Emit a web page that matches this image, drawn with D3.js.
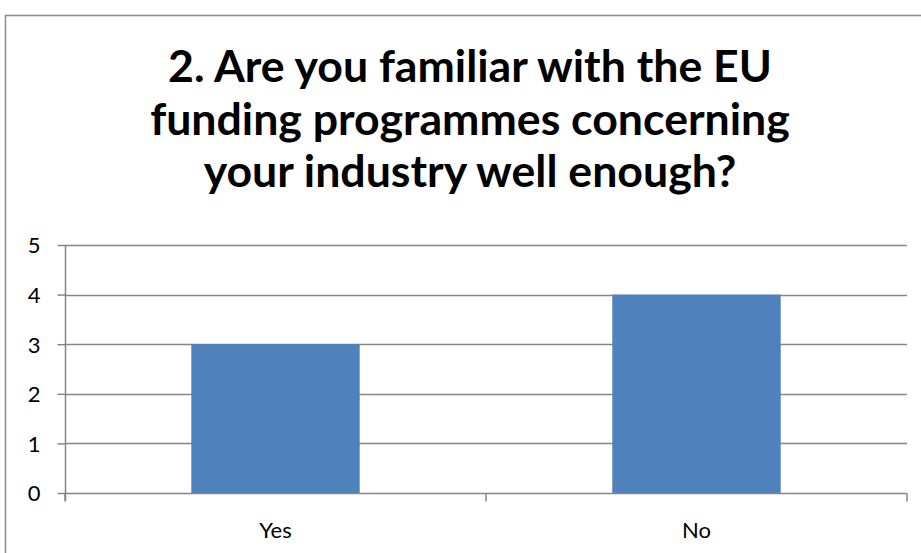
<!DOCTYPE html>
<html>
<head>
<meta charset="utf-8">
<script src="https://cdn.jsdelivr.net/npm/d3@7"></script>
<style>
  html, body { margin: 0; padding: 0; background: #fff; }
  svg { display: block; }
</style>
</head>
<body>
<svg id="chart" width="921" height="553"></svg>
<script>
// Survey answers and their counts
const categories = ["Yes", "No"];
const counts = [3, 4];
const yTicks = [0, 1, 2, 3, 4, 5];
const titleLines = [
  "2. Are you familiar with the EU",
  "funding programmes concerning",
  "your industry well enough?"
];

const W = 921, H = 553;
const plot = { left: 65, right: 907, top: 245, bottom: 493 };
const font = "Lato, 'Open Sans', sans-serif";
const gridColor = "#868686";

const svg = d3.select("#chart");

// Chart area frame
svg.append("rect")
  .attr("x", 5.5).attr("y", 15.5)
  .attr("width", W + 10).attr("height", H + 10)
  .attr("fill", "#fff")
  .attr("stroke", "#8c8c8c").attr("stroke-width", 1.5);

// Title, three centred bold lines; size fitted so the first line spans ~604px
const title = svg.append("g");
const probe = title.append("text")
  .attr("font-family", font).attr("font-weight", "bold")
  .attr("font-size", 40).text(titleLines[0]);
const probeW = probe.node().getComputedTextLength();
probe.remove();
const titleSize = Math.min(46, 40 * 604 / probeW);
const baselines = [82, 135, 187];
titleLines.forEach((t, i) => {
  title.append("text")
    .attr("x", 470).attr("y", baselines[i])
    .attr("text-anchor", "middle")
    .attr("font-family", font).attr("font-weight", "bold")
    .attr("font-size", titleSize)
    .attr("fill", "#000")
    .text(t);
});

const x = d3.scaleBand()
  .domain(categories)
  .range([plot.left, plot.right])
  .paddingInner(0.6)
  .paddingOuter(0.3);

const y = d3.scaleLinear()
  .domain([0, 5])
  .range([plot.bottom, plot.top]);

// Horizontal gridlines
svg.append("g")
  .selectAll("line")
  .data(yTicks.filter(d => d > 0))
  .join("line")
  .attr("x1", plot.left).attr("x2", plot.right)
  .attr("y1", d => Math.round(y(d)) + 0.5).attr("y2", d => Math.round(y(d)) + 0.5)
  .attr("stroke", gridColor).attr("stroke-width", 1.5);

// Bars
svg.append("g")
  .selectAll("rect")
  .data(categories.map((c, i) => ({ c, v: counts[i] })))
  .join("rect")
  .attr("x", d => x(d.c))
  .attr("y", d => y(d.v))
  .attr("width", x.bandwidth())
  .attr("height", d => y(0) - y(d.v))
  .attr("fill", "#4F81BD");

// Value axis
const yAxis = svg.append("g")
  .attr("transform", `translate(${plot.left + 0.5},0)`)
  .call(d3.axisLeft(y).tickValues(yTicks).tickFormat(d3.format("d")).tickSize(8).tickPadding(17));
yAxis.attr("font-size", null).attr("font-family", null);
yAxis.select(".domain").attr("stroke", gridColor).attr("stroke-width", 1.5)
  .attr("d", `M0,${plot.top}V${plot.bottom + 8}`);
yAxis.selectAll(".tick line").attr("stroke", gridColor).attr("stroke-width", 1.5);
yAxis.selectAll(".tick text")
  .style("font-family", font).style("font-size", "22px").attr("fill", "#000")
  .attr("dy", "0.36em");

// Category axis with tick marks at band boundaries
const catAxis = svg.append("g")
  .attr("transform", `translate(0,${Math.round(y(0)) + 0.5})`);
catAxis.append("line")
  .attr("x1", plot.left).attr("x2", plot.right)
  .attr("stroke", gridColor).attr("stroke-width", 1.5);
const bounds = [plot.left, plot.left + x.step(), plot.right];
catAxis.selectAll("line.tk")
  .data(bounds)
  .join("line").attr("class", "tk")
  .attr("x1", d => d).attr("x2", d => d)
  .attr("y1", 0).attr("y2", 8)
  .attr("stroke", gridColor).attr("stroke-width", 1.5);
catAxis.selectAll("text")
  .data(categories)
  .join("text")
  .attr("x", d => x(d) + x.bandwidth() / 2)
  .attr("y", 44)
  .attr("text-anchor", "middle")
  .style("font-family", font).style("font-size", "22px").attr("fill", "#000")
  .text(d => d);
</script>
</body>
</html>
